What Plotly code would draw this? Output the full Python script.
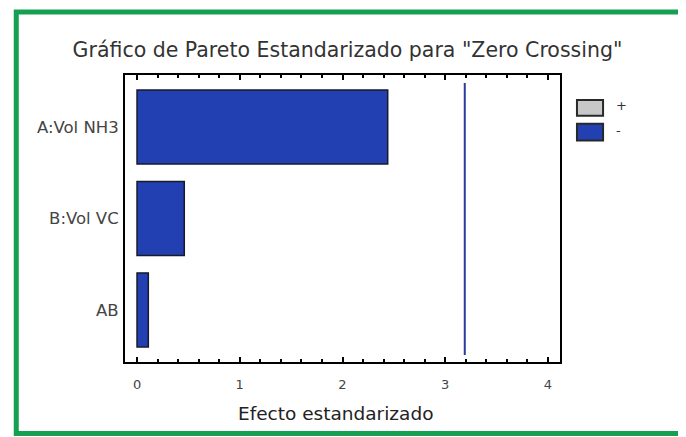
import plotly.graph_objects as go

efectos = ['A:Vol NH3', 'B:Vol VC', 'AB']
valores = [2.44, 0.46, 0.11]
limite = 3.19
x_ticks = [0, 1, 2, 3, 4]

azul = 'rgb(34,64,178)'
fuente = 'DejaVu Sans'

fig = go.Figure()
fig.add_trace(go.Bar(y=efectos,
                     x=valores,
                     orientation='h',
                     width=0.81,
                     marker={'color': azul,
                             'line': {'color': 'rgb(25,25,45)', 'width': 1.5}},
                     showlegend=False,
                     hoverinfo='x+y'))

# the page puts the plot 8px in, so the figure is 8px smaller
fig.update_layout(
    width=678, height=429,
    paper_bgcolor='white',
    plot_bgcolor='white',
    font={'family': fuente, 'color': '#333'},
    margin={'l': 117, 'r': 126, 't': 67, 'b': 75},
    title={'text': 'Gráfico de Pareto Estandarizado para "Zero Crossing"',
           'font': {'size': 20.5, 'color': '#333', 'family': fuente},
           'x': 0.5115, 'xanchor': 'center', 'xref': 'paper',
           'y': 1 - 42 / 429, 'yanchor': 'middle', 'yref': 'container'},
    xaxis={'range': [-0.117, 4.117],
           'tickvals': x_ticks,
           'ticks': 'inside', 'ticklen': 5, 'tickwidth': 1.5, 'tickcolor': 'black',
           'minor': {'dtick': 0.2, 'ticks': 'inside', 'ticklen': 3, 'tickcolor': 'black'},
           'showgrid': False, 'zeroline': False,
           'showline': True, 'linecolor': 'black', 'linewidth': 2, 'mirror': 'ticks',
           'tickfont': {'size': 13, 'color': '#444'}, 'ticklabelstandoff': 9},
    yaxis={'categoryorder': 'array', 'categoryarray': efectos,
           'range': [2.57, -0.57],
           'ticks': '', 'showgrid': False, 'zeroline': False,
           'showline': True, 'linecolor': 'black', 'linewidth': 2, 'mirror': True,
           'tickfont': {'size': 16.5, 'color': '#444'}, 'ticklabelstandoff': 1})

fig.add_annotation(text='Efecto estandarizado', xref='paper', yref='paper',
                   x=0.483, y=-51 / 287, xanchor='center', yanchor='middle',
                   showarrow=False, font={'size': 18.5, 'color': '#222'})

# linea de significancia
fig.add_shape(type='line', xref='x', yref='paper',
              x0=limite, x1=limite, y0=0.024, y1=0.972,
              line={'color': 'rgb(40,60,155)', 'width': 2})

# leyenda
fig.add_shape(type='rect', xref='paper', yref='paper',
              x0=1.039, x1=1.099, y0=0.858, y1=0.913,
              fillcolor='rgb(200,200,200)', line={'color': 'rgb(40,40,40)', 'width': 2})
fig.add_shape(type='rect', xref='paper', yref='paper',
              x0=1.039, x1=1.099, y0=0.772, y1=0.830,
              fillcolor=azul, line={'color': 'rgb(40,40,40)', 'width': 2})
fig.add_annotation(text='+', xref='paper', yref='paper', x=1.125, y=0.893,
                   xanchor='left', yanchor='middle', showarrow=False,
                   font={'size': 13, 'color': '#333'})
fig.add_annotation(text='-', xref='paper', yref='paper', x=1.125, y=0.806,
                   xanchor='left', yanchor='middle', showarrow=False,
                   font={'size': 13, 'color': '#333'})

# marco verde
fig.add_shape(type='rect', xref='paper', yref='paper',
              x0=-0.25, x1=1.4, y0=-0.249, y1=1.2197,
              line={'color': 'rgb(20,160,80)', 'width': 5}, fillcolor='rgba(0,0,0,0)',
              layer='below')

fig.write_html('out.html', config={'displayModeBar': False})
